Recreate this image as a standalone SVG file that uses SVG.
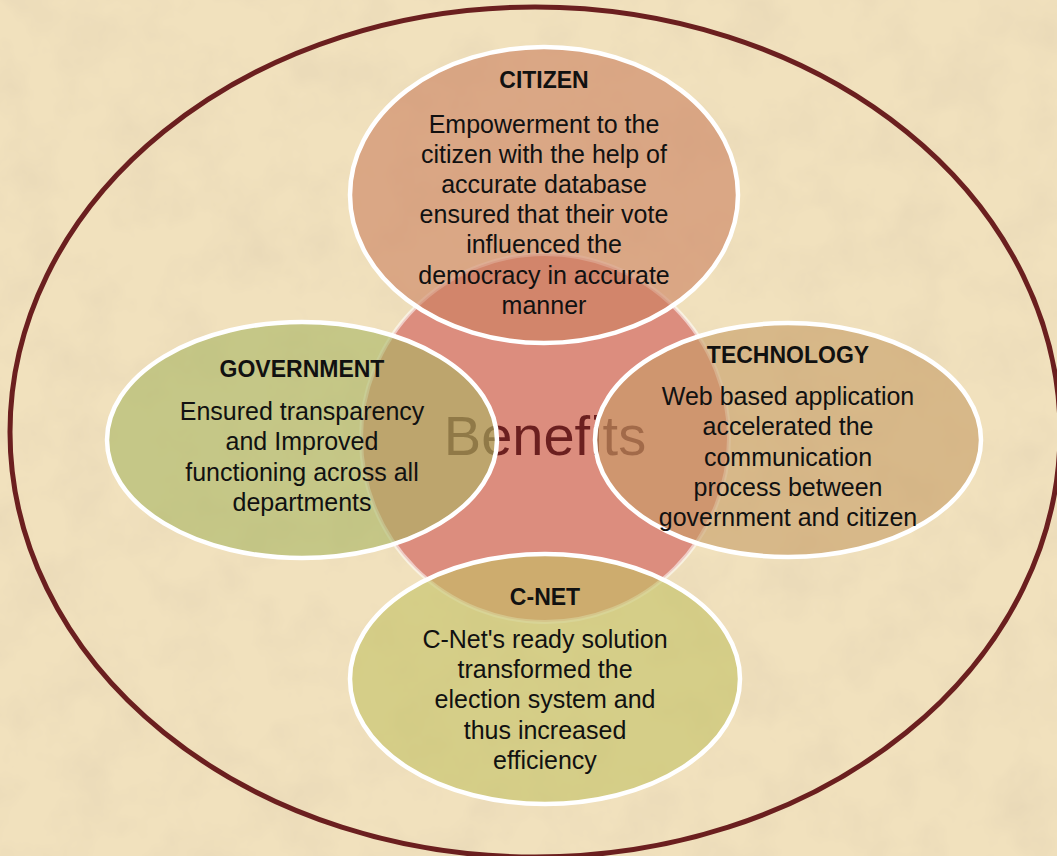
<svg xmlns="http://www.w3.org/2000/svg" width="1057" height="856" viewBox="0 0 1057 856">
<defs>
<filter id="paper" x="0" y="0" width="100%" height="100%">
<feTurbulence type="fractalNoise" baseFrequency="0.018" numOctaves="4" seed="7"/>
<feColorMatrix type="matrix" values="0 0 0 0 0.80  0 0 0 0 0.68  0 0 0 0 0.47  0 0 0 1.4 -0.55"/>
</filter>
<style>
.node{stroke:#ffffff;stroke-width:4.5}
.t{font-family:"Liberation Sans",Arial,sans-serif;font-size:25px;fill:#111;text-anchor:middle}
.h{font-family:"Liberation Sans",Arial,sans-serif;font-size:23px;font-weight:bold;fill:#111;text-anchor:middle}
</style>
</defs>
<rect x="0" y="0" width="1057" height="856" fill="#f1e1bd"/>
<rect x="0" y="0" width="1057" height="856" filter="url(#paper)"/>
<g id="frame">
<ellipse cx="535" cy="432" rx="525" ry="425" fill="none" stroke="#6b1f1f" stroke-width="5"/>
</g>
<g id="center">
<circle cx="545" cy="438" r="184" fill="#dc8d7e" stroke="#ffffff" stroke-opacity="0.55" stroke-width="4"/>
<text x="545" y="455" font-family="'Liberation Sans',Arial,sans-serif" font-size="56" fill="#6b1f1f" text-anchor="middle">Benefits</text>
</g>
<g id="connectors"></g>
<g id="citizen">
<ellipse class="node" cx="544" cy="195" rx="194" ry="148" fill="#cc815f" fill-opacity="0.6"/>
<text class="h" x="544" y="88">CITIZEN</text>
<text class="t" x="544" y="133">Empowerment to the</text>
<text class="t" x="544" y="163">citizen with the help of</text>
<text class="t" x="544" y="193">accurate database</text>
<text class="t" x="544" y="223">ensured that their vote</text>
<text class="t" x="544" y="253">influenced the</text>
<text class="t" x="544" y="284">democracy in accurate</text>
<text class="t" x="544" y="314">manner</text>
</g>
<g id="government">
<ellipse class="node" cx="302" cy="440" rx="195" ry="118" fill="#a9b663" fill-opacity="0.6"/>
<text class="h" x="302" y="377">GOVERNMENT</text>
<text class="t" x="302" y="420">Ensured transparency</text>
<text class="t" x="302" y="450">and Improved</text>
<text class="t" x="302" y="481">functioning across all</text>
<text class="t" x="302" y="511">departments</text>
</g>
<g id="technology">
<ellipse class="node" cx="788" cy="440" rx="193" ry="117" fill="#c79d66" fill-opacity="0.6"/>
<text class="h" x="788" y="363">TECHNOLOGY</text>
<text class="t" x="788" y="405">Web based application</text>
<text class="t" x="788" y="435">accelerated the</text>
<text class="t" x="788" y="466">communication</text>
<text class="t" x="788" y="496">process between</text>
<text class="t" x="788" y="526">government and citizen</text>
</g>
<g id="cnet">
<ellipse class="node" cx="545" cy="679" rx="195" ry="125" fill="#c3c264" fill-opacity="0.6"/>
<text class="h" x="545" y="605">C-NET</text>
<text class="t" x="545" y="648">C-Net's ready solution</text>
<text class="t" x="545" y="678">transformed the</text>
<text class="t" x="545" y="708">election system and</text>
<text class="t" x="545" y="739">thus increased</text>
<text class="t" x="545" y="769">efficiency</text>
</g>
</svg>
